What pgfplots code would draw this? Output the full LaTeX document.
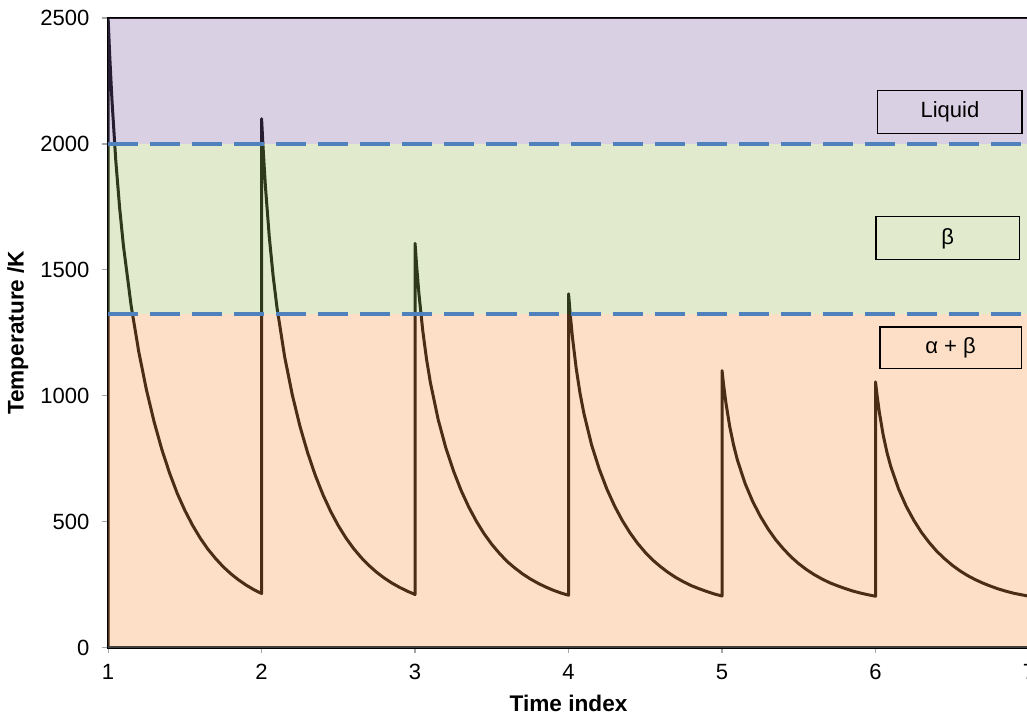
\documentclass[border=0pt]{standalone}
\usepackage{pgfplots}
\pgfplotsset{compat=1.18}
\usepackage{fontspec}
\setmainfont{Liberation Sans}
\definecolor{liqpurple}{HTML}{8064A2}
\definecolor{betagreen}{HTML}{9BBB59}
\definecolor{aborange}{HTML}{F79646}
\definecolor{lineblue}{HTML}{4F81BD}
\definecolor{axisgray}{HTML}{404040}
\begin{document}
\begin{tikzpicture}
\begin{axis}[
  scale only axis,
  width=460pt, height=314.5pt,
  xmin=1, xmax=7, ymin=0, ymax=2500,
  xtick={1,2,3,4,5,6,7},
  ytick={0,500,1000,1500,2000,2500},
  clip=true,
  axis line style={black, line width=1.3pt},
  tick align=outside,
  major tick length=2.8pt,
  major tick style={gray!70, line width=0.6pt},
  tick pos=left,
  /pgf/number format/assume math mode=true,
  /pgf/number format/set thousands separator={},
  tick label style={font=\fontsize{11}{13}\selectfont},
  xticklabel style={yshift=-2pt},
  yticklabel style={xshift=-3pt},
  xlabel={\fontsize{11.3}{13}\selectfont\bfseries Time index},
  ylabel={\fontsize{11.3}{13}\selectfont\bfseries Temperature /K},
  every axis x label/.style={at={(axis description cs:0.5,0)}, anchor=center, yshift=-28pt},
  every axis y label/.style={at={(axis description cs:-0.098,0.5)}, rotate=90, anchor=center},
]
% cooling curve, one decay per time index
\addplot[black, line width=1.5pt, line join=round] coordinates {
  (1,0) (1,2500)
  (1.01,2357) (1.025,2175) (1.05,1934) (1.075,1747) (1.1,1595) (1.15,1358) (1.2,1174)
  (1.25,1023) (1.3,896) (1.35,787) (1.4,694) (1.45,613) (1.5,545) (1.55,486) (1.6,435) (1.65,391)
  (1.7,354) (1.75,321) (1.8,293) (1.85,269) (1.9,248) (1.95,230) (2,215)
  (2,2100)
  (2.01,1982) (2.025,1831) (2.05,1632) (2.075,1477) (2.1,1352) (2.15,1156) (2.2,1004)
  (2.25,879) (2.3,774) (2.35,684) (2.4,607) (2.45,541) (2.5,484) (2.55,435) (2.6,393) (2.65,357)
  (2.7,326) (2.75,299) (2.8,276) (2.85,256) (2.9,239) (2.95,224) (3,211)
  (3,1605)
  (3.01,1518) (3.025,1406) (3.05,1259) (3.075,1144) (3.1,1052) (3.15,907) (3.2,794)
  (3.25,702) (3.3,624) (3.35,558) (3.4,501) (3.45,452) (3.5,410) (3.55,374) (3.6,342) (3.65,316)
  (3.7,293) (3.75,273) (3.8,256) (3.85,241) (3.9,228) (3.95,217) (4,208)
  (4,1405)
  (4.01,1330) (4.025,1234) (4.05,1108) (4.075,1009) (4.1,930) (4.15,805) (4.2,709)
  (4.25,629) (4.3,562) (4.35,505) (4.4,456) (4.45,414) (4.5,378) (4.55,347) (4.6,321) (4.65,298)
  (4.7,278) (4.75,261) (4.8,246) (4.85,234) (4.9,223) (4.95,213) (5,205)
  (5,1100)
  (5.01,1044) (5.025,973) (5.05,878) (5.075,805) (5.1,745) (5.15,652) (5.2,580)
  (5.25,521) (5.3,471) (5.35,428) (5.4,392) (5.45,360) (5.5,333) (5.55,310) (5.6,290) (5.65,273)
  (5.7,258) (5.75,246) (5.8,235) (5.85,225) (5.9,217) (5.95,210) (6,204)
  (6,1055)
  (6.01,1002) (6.025,934) (6.05,844) (6.075,774) (6.1,718) (6.15,630) (6.2,561)
  (6.25,505) (6.3,457) (6.35,417) (6.4,382) (6.45,353) (6.5,327) (6.55,305) (6.6,286) (6.65,270)
  (6.7,256) (6.75,244) (6.8,233) (6.85,224) (6.9,216) (6.95,210) (7,204)
};
% phase bands
\addplot[draw=none, fill=aborange, fill opacity=0.3] coordinates {(1,0) (7,0) (7,1325) (1,1325)} --cycle;
\addplot[draw=none, fill=betagreen, fill opacity=0.3] coordinates {(1,1325) (7,1325) (7,2000) (1,2000)} --cycle;
\addplot[draw=none, fill=liqpurple, fill opacity=0.3] coordinates {(1,2000) (7,2000) (7,2500) (1,2500)} --cycle;
% transition temperatures
\addplot[lineblue, line width=2pt, dash pattern=on 15pt off 6pt] coordinates {(1,2000) (7,2000)};
\addplot[lineblue, line width=2pt, dash pattern=on 15pt off 6pt] coordinates {(1,1325) (7,1325)};
\addplot[axisgray, line width=1.5pt] coordinates {(1,0) (7,0)};
\node[draw=black, line width=0.6pt, minimum width=72pt, minimum height=21.5pt, font=\fontsize{11}{13}\selectfont]
  at (axis cs:6.485,2128) {Liquid};
\node[draw=black, line width=0.6pt, minimum width=71.5pt, minimum height=21.5pt, font=\fontsize{11}{13}\selectfont]
  at (axis cs:6.47,1625) {β};
\node[draw=black, line width=0.6pt, minimum width=70.5pt, minimum height=20.7pt, font=\fontsize{11}{13}\selectfont]
  at (axis cs:6.489,1191) {α + β};
\coordinate (sw) at (axis cs:1,0);
\coordinate (ne) at (axis cs:7,2500);
\end{axis}
\pgfresetboundingbox
\path[use as bounding box] ([shift={(-54pt,-34pt)}]sw) rectangle ([shift={(-1pt,9pt)}]ne);
\end{tikzpicture}
\end{document}
